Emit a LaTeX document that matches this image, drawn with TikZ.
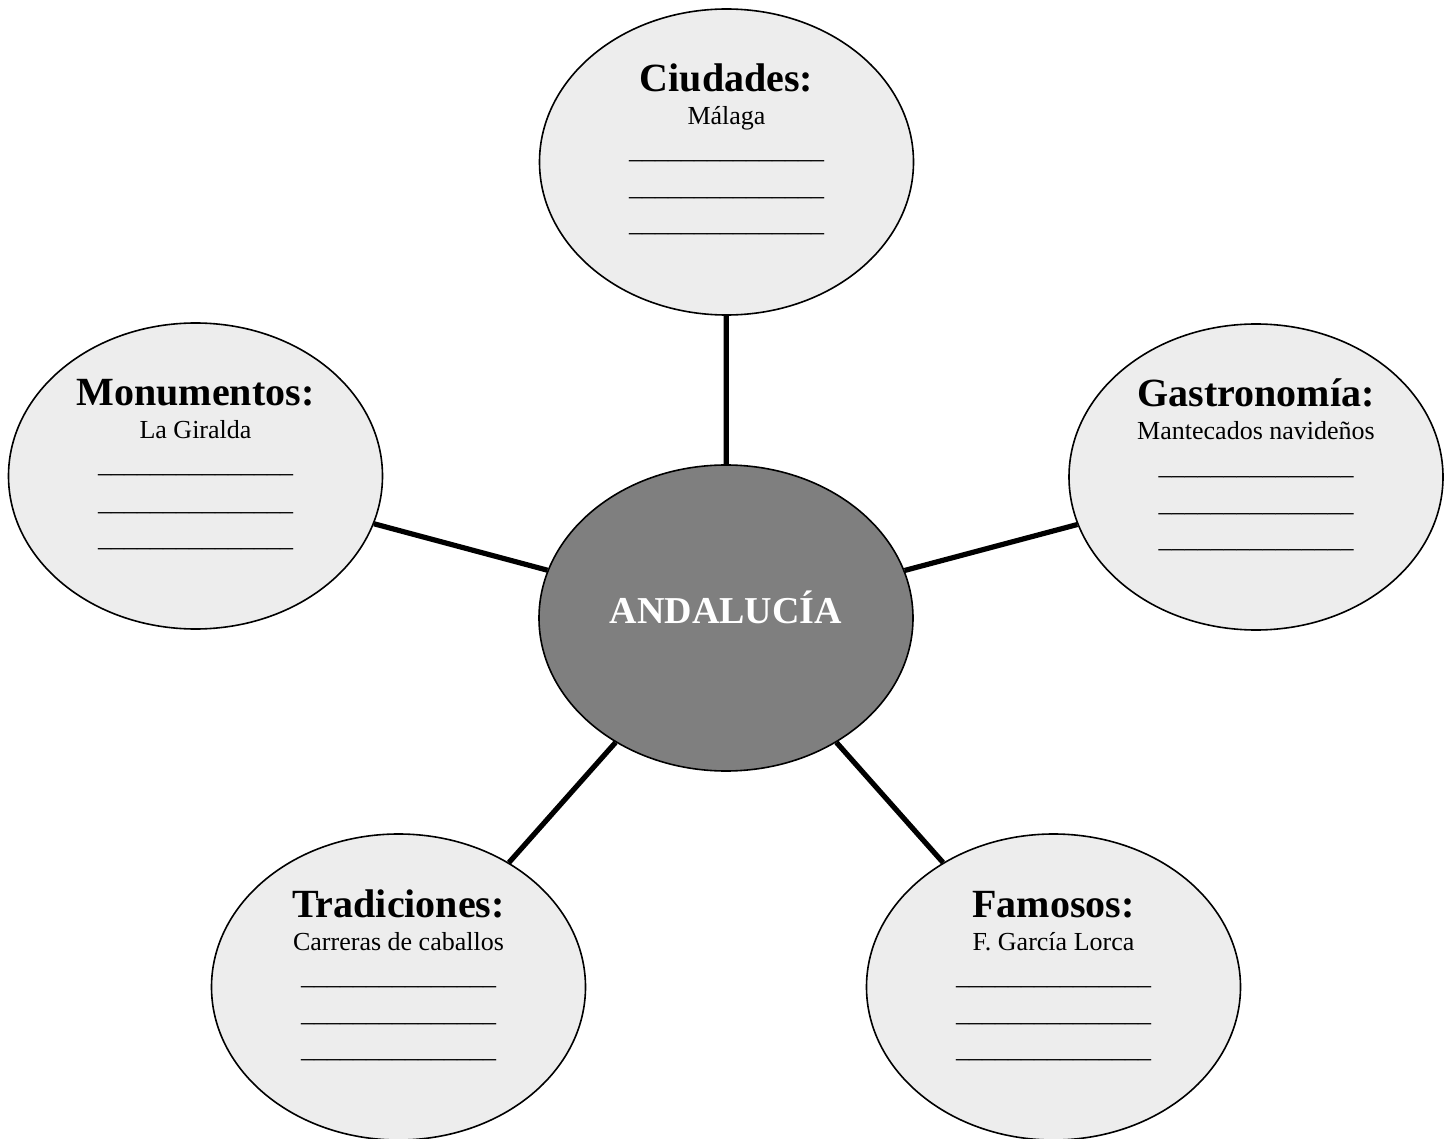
\documentclass[tikz,border=0pt]{standalone}
\usepackage{fontspec}
\setmainfont{Liberation Serif}
\usetikzlibrary{shapes.geometric}
\definecolor{satfill}{HTML}{EDEDED}
\definecolor{cenfill}{HTML}{7F7F7F}
\tikzset{
  sat/.style={ellipse, draw=black, line width=0.8pt, fill=satfill,
    minimum width=187pt, minimum height=153pt, inner sep=0pt},
  cen/.style={ellipse, draw=black, line width=0.8pt, fill=cenfill,
    minimum width=187pt, minimum height=153pt, inner sep=0pt},
  head/.style={anchor=base, inner sep=0pt, font=\fontsize{20}{24}\selectfont\bfseries},
  sub/.style={anchor=base, inner sep=0pt, font=\fontsize{13}{15}\selectfont},
  blank/.style={anchor=base, inner sep=0pt, font=\fontsize{13}{15}\selectfont},
  title/.style={anchor=base, inner sep=0pt, text=white, font=\fontsize{19}{23}\selectfont\bfseries},
  conn/.style={draw=black, line width=2.6pt}
}
\newcommand{\satbubble}[5]{%
  \node[sat] (#1) at (#2,#3) {};
  \node[head] (#1h) at ([yshift=35pt]#1.center) {#4};
  \node[sub] (#1s) at ([yshift=18.5pt]#1.center) {#5};
  \node[blank] (#1a) at ([yshift=1.5pt]#1.center) {\_\_\_\_\_\_\_\_\_\_\_\_\_\_\_};
  \node[blank] (#1b) at ([yshift=-17pt]#1.center) {\_\_\_\_\_\_\_\_\_\_\_\_\_\_\_};
  \node[blank] (#1c) at ([yshift=-35pt]#1.center) {\_\_\_\_\_\_\_\_\_\_\_\_\_\_\_};
}
\begin{document}
\begin{tikzpicture}[x=0.5pt,y=-0.5pt]
\useasboundingbox (0,0) rectangle (1453,1139);
\node[cen] (and) at (726,618) {};
\node[title] (andT) at ([yshift=-3pt]and.center) {ANDALUCÍA};
\satbubble{ciu}{726.5}{162}{Ciudades:}{Málaga}
\satbubble{mon}{195.5}{476}{Monumentos:}{La Giralda}
\satbubble{gas}{1256}{477}{Gastronomía:}{Mantecados navideños}
\satbubble{tra}{398.5}{987}{Tradiciones:}{Carreras de caballos}
\satbubble{fam}{1053.5}{987}{Famosos:}{F. García Lorca}
\draw[conn] (and) -- (ciu);
\draw[conn] (and) -- (mon);
\draw[conn] (and) -- (gas);
\draw[conn] (and) -- (tra);
\draw[conn] (and) -- (fam);
\end{tikzpicture}
\end{document}
